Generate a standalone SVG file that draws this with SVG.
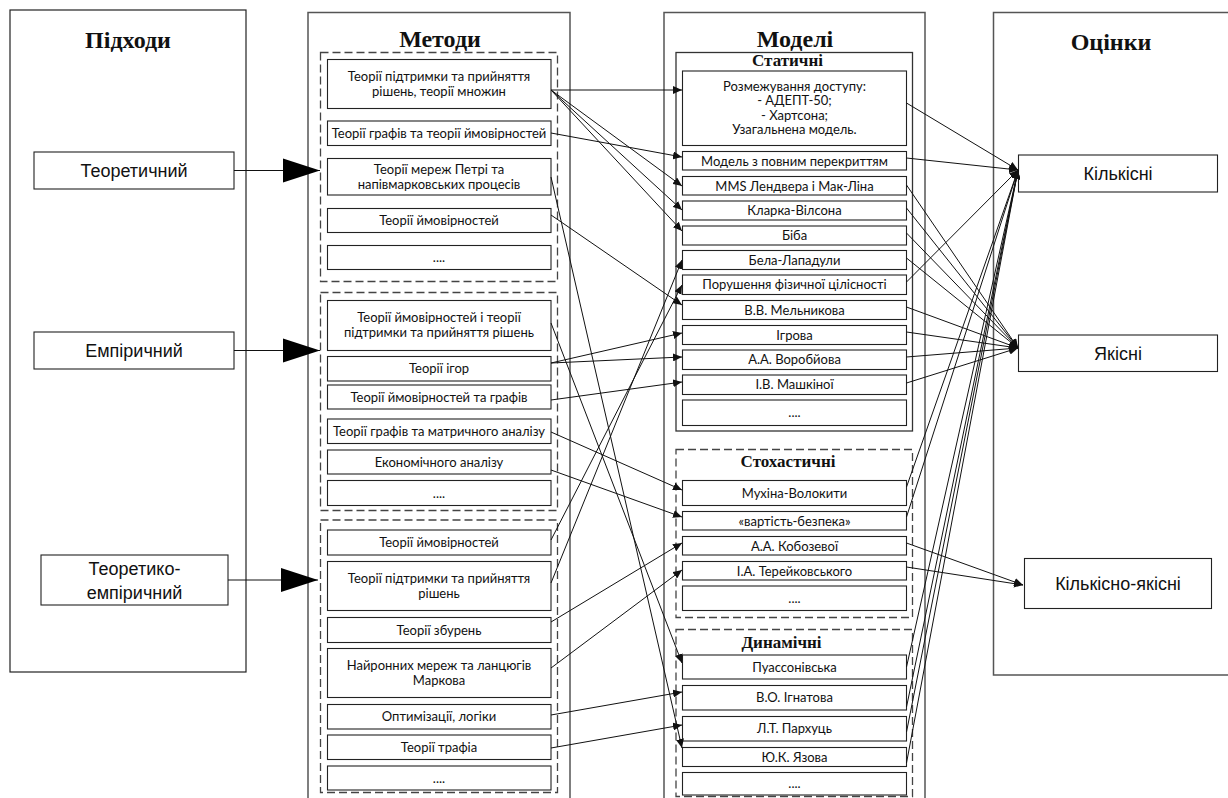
<svg xmlns="http://www.w3.org/2000/svg" width="1228" height="798" viewBox="0 0 1228 798">
  <defs>
    <style>
      .col { fill: #fff; stroke: #555; stroke-width: 1.5; }
      .col-thin { fill: #fff; stroke: #222; stroke-width: 1.2; }
      .grp { fill: none; stroke: #444; stroke-width: 1.3; stroke-dasharray: 8 4; }
      .grp-solid { fill: none; stroke: #333; stroke-width: 1.3; }
      .box { fill: #fff; stroke: #222; stroke-width: 1.1; }
      .title { font-family: "Liberation Serif", "Times New Roman", serif; font-weight: bold; font-size: 24px; text-anchor: middle; fill: #111; }
      .sub { font-family: "Liberation Serif", "Times New Roman", serif; font-weight: bold; font-size: 17px; text-anchor: middle; fill: #111; }
      .lbl { font-family: "Lato", "Noto Sans", sans-serif; font-size: 13px; text-anchor: middle; fill: #111; }
      .big { font-family: "Liberation Sans", Arial, sans-serif; font-size: 18px; text-anchor: middle; fill: #111; }
      .conn line { stroke: #111; stroke-width: 1; fill: none; marker-end: url(#tip); }
      .main line { stroke: #111; stroke-width: 1; fill: none; marker-end: url(#bigtip); }
    </style>
    <marker id="tip" markerUnits="userSpaceOnUse" markerWidth="10" markerHeight="8" refX="9" refY="4" orient="auto">
      <path d="M0,0 L9,4 L0,8 z" fill="#111"/>
    </marker>
    <marker id="bigtip" markerUnits="userSpaceOnUse" markerWidth="38" markerHeight="26" refX="37" refY="13" orient="auto">
      <path d="M0,1 L37,13 L0,25 z" fill="#000"/>
    </marker>
  </defs>

  <rect width="1228" height="798" fill="#fff"/>

  <!-- column: approaches -->
  <g id="col-approaches">
    <rect class="col-thin" x="10" y="10" width="236" height="662"/>
    <text class="title" x="128" y="48">Підходи</text>
  </g>
  <g id="a-theoretical">
    <rect class="box" x="34" y="152" width="200" height="37"/>
    <text class="big" x="134" y="177">Теоретичний</text>
  </g>
  <g id="a-empirical">
    <rect class="box" x="34" y="332" width="200" height="37"/>
    <text class="big" x="134" y="357">Емпіричний</text>
  </g>
  <g id="a-mixed">
    <rect class="box" x="41" y="555" width="187" height="50"/>
    <text class="big" x="134.5" y="575">Теоретико-</text>
    <text class="big" x="134.5" y="599">емпіричний</text>
  </g>

  <!-- column: methods -->
  <g id="col-methods">
    <rect class="col" x="308" y="12.5" width="262" height="800"/>
    <text class="title" x="440" y="47">Методи</text>
    <rect class="grp" x="320.5" y="52.5" width="237" height="229"/>
    <rect class="grp" x="320.5" y="292.5" width="237" height="218"/>
    <rect class="grp" x="320.5" y="520" width="237" height="272.5"/>
  </g>
  <g id="m1"><rect class="box" x="327.5" y="59.5" width="223.5" height="49"/>
    <text class="lbl" x="439" y="81">Теорії підтримки та прийняття</text>
    <text class="lbl" x="439" y="96">рішень, теорії множин</text></g>
  <g id="m2"><rect class="box" x="327.5" y="121" width="223.5" height="24.5"/>
    <text class="lbl" x="439" y="138">Теорії графів та теорії ймовірностей</text></g>
  <g id="m3"><rect class="box" x="327.5" y="158.5" width="223.5" height="36.5"/>
    <text class="lbl" x="439" y="174">Теорії мереж Петрі та</text>
    <text class="lbl" x="439" y="189">напівмарковських процесів</text></g>
  <g id="m4"><rect class="box" x="327.5" y="208.5" width="223.5" height="24"/>
    <text class="lbl" x="439" y="225">Теорії ймовірностей</text></g>
  <g id="m5"><rect class="box" x="327.5" y="245.5" width="223.5" height="24"/>
    <text class="lbl" x="439" y="262">....</text></g>

  <g id="m6"><rect class="box" x="327.5" y="300.5" width="223.5" height="50"/>
    <text class="lbl" x="439" y="322">Теорії ймовірностей і теорії</text>
    <text class="lbl" x="439" y="337">підтримки та прийняття рішень</text></g>
  <g id="m7"><rect class="box" x="327.5" y="356.5" width="223.5" height="24.5"/>
    <text class="lbl" x="439" y="373">Теорії ігор</text></g>
  <g id="m8"><rect class="box" x="327.5" y="385" width="223.5" height="24"/>
    <text class="lbl" x="439" y="401.5">Теорії ймовірностей та графів</text></g>
  <g id="m9"><rect class="box" x="327.5" y="419" width="223.5" height="24.5"/>
    <text class="lbl" x="439" y="436">Теорії графів та матричного аналізу</text></g>
  <g id="m10"><rect class="box" x="327.5" y="450" width="223.5" height="24"/>
    <text class="lbl" x="439" y="466.5">Економічного аналізу</text></g>
  <g id="m11"><rect class="box" x="327.5" y="480.5" width="223.5" height="25"/>
    <text class="lbl" x="439" y="497.5">....</text></g>

  <g id="m12"><rect class="box" x="327.5" y="530" width="223.5" height="25"/>
    <text class="lbl" x="439" y="547">Теорії ймовірностей</text></g>
  <g id="m13"><rect class="box" x="327.5" y="561.5" width="223.5" height="49"/>
    <text class="lbl" x="439" y="583">Теорії підтримки та прийняття</text>
    <text class="lbl" x="439" y="598">рішень</text></g>
  <g id="m14"><rect class="box" x="327.5" y="617.5" width="223.5" height="25"/>
    <text class="lbl" x="439" y="634.5">Теорії збурень</text></g>
  <g id="m15"><rect class="box" x="327.5" y="648.5" width="223.5" height="49"/>
    <text class="lbl" x="439" y="670">Найронних мереж та ланцюгів</text>
    <text class="lbl" x="439" y="685">Маркова</text></g>
  <g id="m16"><rect class="box" x="327.5" y="704.5" width="223.5" height="24.5"/>
    <text class="lbl" x="439" y="721">Оптимізації, логіки</text></g>
  <g id="m17"><rect class="box" x="327.5" y="735" width="223.5" height="24.5"/>
    <text class="lbl" x="439" y="752">Теорії трафіа</text></g>
  <g id="m18"><rect class="box" x="327.5" y="766" width="223.5" height="24"/>
    <text class="lbl" x="439" y="782.5">....</text></g>

  <!-- column: models -->
  <g id="col-models">
    <rect class="col" x="664" y="12.5" width="261" height="800"/>
    <text class="title" x="795" y="47">Моделі</text>
    <rect class="grp-solid" x="676" y="52.5" width="236.5" height="378.5"/>
    <text class="sub" x="787.5" y="66">Статичні</text>
    <rect class="grp" x="676" y="449.5" width="236.5" height="168"/>
    <text class="sub" x="788" y="467">Стохастичні</text>
    <rect class="grp" x="676" y="629.5" width="236.5" height="167"/>
    <text class="sub" x="781.5" y="648">Динамічні</text>
  </g>
  <g id="s1"><rect class="box" x="682.5" y="71" width="224" height="74.5"/>
    <text class="lbl" x="794.5" y="90.5">Розмежування доступу:</text>
    <text class="lbl" x="794.5" y="105">- АДЕПТ-50;</text>
    <text class="lbl" x="794.5" y="119.5">- Хартсона;</text>
    <text class="lbl" x="794.5" y="134">Узагальнена модель.</text></g>
  <g id="s2"><rect class="box" x="682.5" y="151.5" width="224" height="18.5"/>
    <text class="lbl" x="794.5" y="165.5">Модель з повним перекриттям</text></g>
  <g id="s3"><rect class="box" x="682.5" y="176.5" width="224" height="18.5"/>
    <text class="lbl" x="794.5" y="190.5">MMS Лендвера і Мак-Ліна</text></g>
  <g id="s4"><rect class="box" x="682.5" y="201" width="224" height="19"/>
    <text class="lbl" x="794.5" y="215">Кларка-Вілсона</text></g>
  <g id="s5"><rect class="box" x="682.5" y="226" width="224" height="19"/>
    <text class="lbl" x="794.5" y="240">Біба</text></g>
  <g id="s6"><rect class="box" x="682.5" y="250.5" width="224" height="19"/>
    <text class="lbl" x="794.5" y="264.5">Бела-Лападули</text></g>
  <g id="s7"><rect class="box" x="682.5" y="275" width="224" height="19.5"/>
    <text class="lbl" x="794.5" y="289">Порушення фізичної цілісності</text></g>
  <g id="s8"><rect class="box" x="682.5" y="300.5" width="224" height="19"/>
    <text class="lbl" x="794.5" y="314.5">В.В. Мельникова</text></g>
  <g id="s9"><rect class="box" x="682.5" y="325.5" width="224" height="19"/>
    <text class="lbl" x="794.5" y="339.5">Ігрова</text></g>
  <g id="s10"><rect class="box" x="682.5" y="350" width="224" height="19.5"/>
    <text class="lbl" x="794.5" y="364">А.А. Воробйова</text></g>
  <g id="s11"><rect class="box" x="682.5" y="375" width="224" height="19.5"/>
    <text class="lbl" x="794.5" y="389">І.В. Машкіної</text></g>
  <g id="s12"><rect class="box" x="682.5" y="400" width="224" height="25.5"/>
    <text class="lbl" x="794.5" y="417">....</text></g>

  <g id="t1"><rect class="box" x="682.5" y="480.5" width="224" height="25"/>
    <text class="lbl" x="794.5" y="497.5">Мухіна-Волокити</text></g>
  <g id="t2"><rect class="box" x="682.5" y="511.5" width="224" height="18.5"/>
    <text class="lbl" x="794.5" y="525.5">«вартість-безпека»</text></g>
  <g id="t3"><rect class="box" x="682.5" y="536.5" width="224" height="18.5"/>
    <text class="lbl" x="794.5" y="550.5">А.А. Кобозевої</text></g>
  <g id="t4"><rect class="box" x="682.5" y="561.5" width="224" height="18.5"/>
    <text class="lbl" x="794.5" y="575.5">І.А. Терейковського</text></g>
  <g id="t5"><rect class="box" x="682.5" y="586" width="224" height="24.5"/>
    <text class="lbl" x="794.5" y="603">....</text></g>

  <g id="d1"><rect class="box" x="682.5" y="655" width="224" height="24"/>
    <text class="lbl" x="794.5" y="671.5">Пуассонівська</text></g>
  <g id="d2"><rect class="box" x="682.5" y="685.5" width="224" height="24.5"/>
    <text class="lbl" x="794.5" y="702">В.О. Ігнатова</text></g>
  <g id="d3"><rect class="box" x="682.5" y="716.5" width="224" height="24.5"/>
    <text class="lbl" x="794.5" y="733">Л.Т. Пархуць</text></g>
  <g id="d4"><rect class="box" x="682.5" y="747.5" width="224" height="19"/>
    <text class="lbl" x="794.5" y="761.5">Ю.К. Язова</text></g>
  <g id="d5"><rect class="box" x="682.5" y="772.5" width="224" height="22.5"/>
    <text class="lbl" x="794.5" y="788">....</text></g>

  <!-- column: assessments -->
  <g id="col-assessments">
    <rect class="col" x="993.5" y="12.5" width="260" height="662.5"/>
    <text class="title" x="1111" y="50">Оцінки</text>
  </g>
  <g id="e-quant">
    <rect class="box" x="1018.5" y="155" width="199" height="37"/>
    <text class="big" x="1118" y="180">Кількісні</text>
  </g>
  <g id="e-qual">
    <rect class="box" x="1018.5" y="335" width="199" height="36.5"/>
    <text class="big" x="1118" y="360">Якісні</text>
  </g>
  <g id="e-mixed">
    <rect class="box" x="1024.5" y="558.5" width="187" height="50"/>
    <text class="big" x="1118" y="590">Кількісно-якісні</text>
  </g>

  <!-- approach to method group arrows -->
  <g id="main-links" class="main">
    <line x1="234" y1="170.5" x2="320" y2="170.5"/>
    <line x1="234" y1="350.5" x2="320" y2="350.5"/>
    <line x1="228" y1="580" x2="318" y2="580"/>
  </g>

  <!-- method to model links -->
  <g id="method-links" class="conn">
    <line x1="551" y1="90" x2="682" y2="90"/>
    <line x1="551" y1="90" x2="682" y2="186"/>
    <line x1="551" y1="90" x2="682" y2="210"/>
    <line x1="551" y1="90" x2="682" y2="231"/>
    <line x1="551" y1="133" x2="682" y2="157"/>
    <line x1="551" y1="177" x2="682" y2="748"/>
    <line x1="551" y1="215" x2="682" y2="305"/>
    <line x1="551" y1="323" x2="682" y2="663"/>
    <line x1="551" y1="363" x2="682" y2="333"/>
    <line x1="551" y1="363" x2="682" y2="357"/>
    <line x1="551" y1="400" x2="682" y2="382"/>
    <line x1="551" y1="432" x2="682" y2="490"/>
    <line x1="551" y1="470" x2="682" y2="517"/>
    <line x1="551" y1="540" x2="682" y2="285"/>
    <line x1="551" y1="583" x2="682" y2="260"/>
    <line x1="551" y1="622" x2="682" y2="543"/>
    <line x1="551" y1="668" x2="682" y2="570"/>
    <line x1="551" y1="715" x2="682" y2="692"/>
    <line x1="551" y1="748" x2="682" y2="725"/>
  </g>

  <!-- model to assessment links -->
  <g id="model-links" class="conn">
    <line x1="906.5" y1="103" x2="1018" y2="170"/>
    <line x1="906.5" y1="158" x2="1018" y2="170"/>
    <line x1="906.5" y1="282" x2="1018" y2="170"/>
    <line x1="906.5" y1="487" x2="1018" y2="170"/>
    <line x1="906.5" y1="517" x2="1018" y2="170"/>
    <line x1="906.5" y1="667" x2="1018" y2="170"/>
    <line x1="906.5" y1="707" x2="1018" y2="170"/>
    <line x1="906.5" y1="732" x2="1018" y2="170"/>
    <line x1="906.5" y1="763" x2="1018" y2="170"/>
    <line x1="906.5" y1="185" x2="1018" y2="348"/>
    <line x1="906.5" y1="208" x2="1018" y2="348"/>
    <line x1="906.5" y1="233" x2="1018" y2="348"/>
    <line x1="906.5" y1="258" x2="1018" y2="348"/>
    <line x1="906.5" y1="307" x2="1018" y2="348"/>
    <line x1="906.5" y1="332" x2="1018" y2="348"/>
    <line x1="906.5" y1="357" x2="1018" y2="348"/>
    <line x1="906.5" y1="383" x2="1018" y2="348"/>
    <line x1="906.5" y1="543" x2="1023" y2="585"/>
    <line x1="906.5" y1="567" x2="1023" y2="585"/>
  </g>
</svg>
